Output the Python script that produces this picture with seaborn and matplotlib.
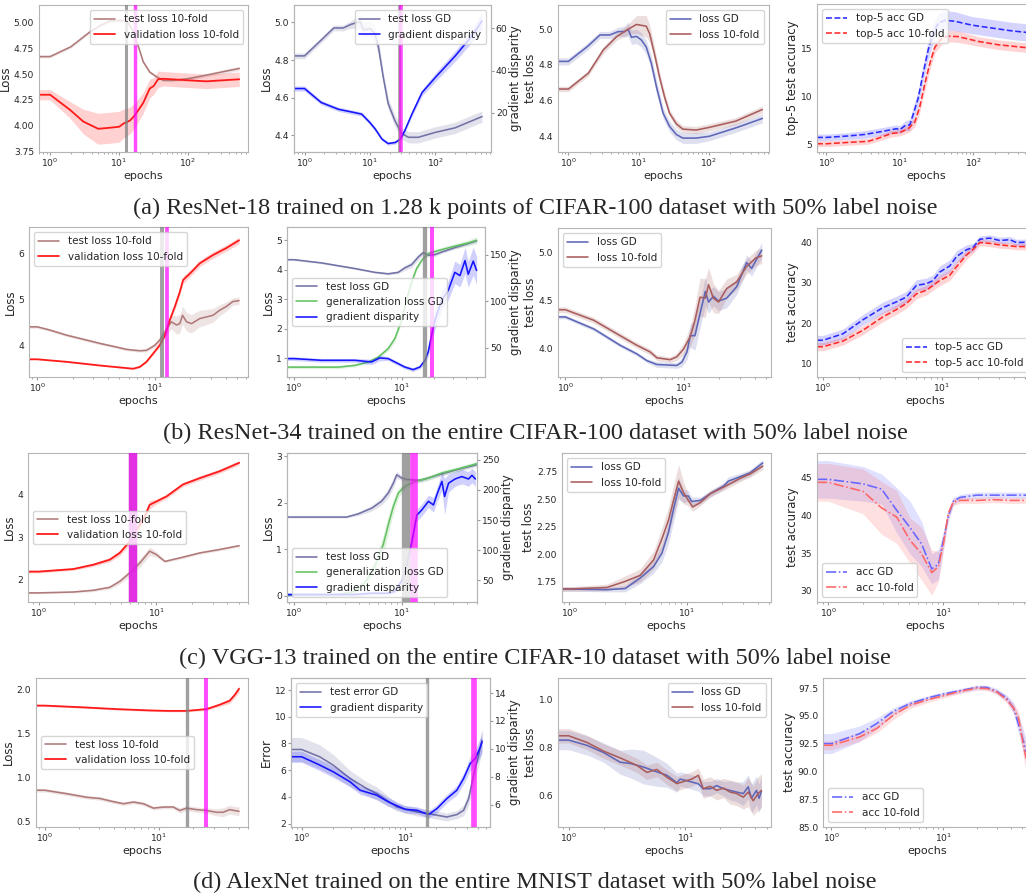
import matplotlib
matplotlib.use("Agg")
import matplotlib.pyplot as plt
from matplotlib.ticker import FormatStrFormatter
import seaborn as sns

# ---------------------------------------------------------------------------
# data (epochs, mean, spread)
# ---------------------------------------------------------------------------

# (a) ResNet-18, 1.28k CIFAR-100 points
a1_test_ep = [0.69, 1, 2, 3.8, 5.3, 7.4, 10, 13, 16, 20, 22.5, 28, 35, 44, 61, 100, 186, 365, 560]
a1_test = [4.67, 4.67, 4.765, 4.91, 4.97, 5.015, 5.02, 5.02, 4.92, 4.73, 4.62, 4.52, 4.475, 4.44, 4.44, 4.455, 4.49, 4.53, 4.555]
a1_test_sd = [0.012, 0.012, 0.012, 0.012, 0.012, 0.015, 0.015, 0.02, 0.02, 0.02, 0.015, 0.012, 0.012, 0.012, 0.012, 0.015, 0.015, 0.02, 0.02]
a1_val_ep = [0.69, 1, 1.95, 3.04, 5, 7.4, 10.1, 11.6, 14.5, 17, 22.5, 28, 32, 37, 44, 100, 186, 560]
a1_val = [4.30, 4.30, 4.153, 4.04, 3.97, 3.98, 3.99, 4.02, 4.05, 4.10, 4.22, 4.36, 4.385, 4.45, 4.455, 4.44, 4.43, 4.45]
a1_val_sd = [0.05, 0.05, 0.08, 0.12, 0.15, 0.15, 0.15, 0.14, 0.13, 0.12, 0.1, 0.09, 0.08, 0.08, 0.07, 0.07, 0.07, 0.07]
a1_stop = [12.6, 17.1]

a2_test_ep = [0.69, 1, 1.8, 2.8, 3.9, 5.2, 7.1, 8.0, 9.0, 10, 11.9, 13.5, 16, 19, 24, 30.6, 39, 55, 100, 200, 520]
a2_test = [4.822, 4.822, 4.906, 4.97, 4.97, 4.99, 5.003, 4.96, 4.963, 4.968, 4.94, 4.87, 4.71, 4.57, 4.48, 4.41, 4.39, 4.39, 4.416, 4.44, 4.50]
a2_test_sd = [0.015, 0.015, 0.015, 0.015, 0.015, 0.02, 0.04, 0.04, 0.04, 0.04, 0.04, 0.04, 0.03, 0.03, 0.03, 0.03, 0.03, 0.03, 0.03, 0.03, 0.03]
a2_gd_ep = [0.69, 1, 1.8, 3.3, 5.9, 7.5, 10, 12.1, 15.3, 19, 24.4, 29.1, 34.1, 43.9, 62.8, 100, 202, 364, 520]
a2_gd = [31.5, 31.5, 24.9, 21.7, 20.1, 19.4, 15.4, 12.3, 7.6, 5.5, 6.0, 7.6, 11.5, 19.4, 29.6, 36.7, 46.9, 56.4, 63.5]
a2_gd_sd = [1.2, 1.2, 1, 1, 1, 1, 1, 1, 0.8, 0.8, 0.8, 0.8, 1, 1.2, 1.5, 2, 2.5, 3, 4]
a2_stop = [28, 29.9]

a3_gd_ep = [0.71, 1, 1.82, 2.81, 3.89, 5.1, 6.3, 7.07, 7.86, 9.3, 10.9, 12.8, 15.1, 17.8, 22.2, 27.4, 34.2, 42.4, 65.5, 101, 240, 573]
a3_gd = [4.82, 4.82, 4.90, 4.968, 4.968, 4.987, 4.987, 5.0, 4.955, 4.96, 4.94, 4.90, 4.81, 4.68, 4.53, 4.456, 4.41, 4.39, 4.39, 4.40, 4.447, 4.50]
a3_gd_sd = [0.02, 0.02, 0.02, 0.02, 0.02, 0.025, 0.03, 0.04, 0.04, 0.04, 0.04, 0.04, 0.04, 0.04, 0.03, 0.03, 0.03, 0.03, 0.03, 0.025, 0.025, 0.025]
a3_kf_ep = [0.71, 1, 1.92, 3.13, 4.83, 7.07, 9.3, 12.8, 14.3, 16.8, 19.8, 23.3, 27.4, 34.2, 42.4, 65.5, 101, 240, 573]
a3_kf = [4.665, 4.665, 4.754, 4.884, 4.958, 5.0, 5.027, 5.017, 4.975, 4.86, 4.73, 4.62, 4.53, 4.47, 4.44, 4.435, 4.45, 4.485, 4.55]
a3_kf_sd = [0.015, 0.015, 0.015, 0.02, 0.02, 0.03, 0.05, 0.06, 0.05, 0.04, 0.03, 0.03, 0.02, 0.02, 0.02, 0.02, 0.02, 0.02, 0.02]

a4_gd_ep = [0.746, 1, 1.97, 3.33, 5.63, 7.7, 9.0, 10, 11.7, 13.7, 15.2, 17.8, 20.8, 24.3, 28.5, 33.4, 41.1, 56.3, 95, 177, 332, 600]
a4_gd = [5.69, 5.69, 5.84, 6.0, 6.3, 6.5, 6.6, 6.5, 6.9, 7.0, 8.1, 9.8, 12.4, 14.8, 16.6, 17.6, 17.9, 17.8, 17.4, 17.1, 16.8, 16.6]
a4_gd_sd = [0.35, 0.35, 0.35, 0.4, 0.4, 0.4, 0.4, 0.4, 0.5, 0.6, 0.7, 0.8, 0.9, 1.0, 1.0, 1.0, 1.0, 1.0, 0.9, 0.9, 0.9, 0.9]
a4_kf_ep = [0.746, 1, 1.97, 3.7, 5.06, 7.7, 10, 13, 16, 18.7, 21.9, 25.6, 30, 37, 45.7, 62, 117, 219, 600]
a4_kf = [5.03, 5.03, 5.17, 5.28, 5.6, 6.1, 6.2, 6.6, 7.3, 8.9, 11.3, 13.4, 15.1, 16.0, 16.25, 16.2, 15.7, 15.35, 15.0]
a4_kf_sd = [0.3, 0.3, 0.3, 0.3, 0.3, 0.35, 0.35, 0.4, 0.5, 0.6, 0.7, 0.7, 0.6, 0.6, 0.6, 0.6, 0.5, 0.5, 0.5]

# (b) ResNet-34, CIFAR-100
b1_test_ep = [0.85, 1, 1.28, 1.77, 2.46, 3.41, 4.73, 5.74, 7.45, 8.48, 10, 11.0, 12.5, 13.8, 15.3, 16.3, 17.2, 18.6, 20.5, 24.1, 31.2, 35.6, 40.4, 46.1, 52]
b1_test = [4.40, 4.40, 4.33, 4.22, 4.13, 4.04, 3.96, 3.91, 3.88, 3.89, 4.0, 4.11, 4.33, 4.51, 4.44, 4.47, 4.65, 4.51, 4.47, 4.58, 4.65, 4.76, 4.84, 4.95, 4.97]
b1_test_sd = [0.03] * 10 + [0.05, 0.08, 0.12, 0.15, 0.2, 0.2, 0.2, 0.2, 0.2, 0.18, 0.15, 0.12, 0.1, 0.08, 0.08]
b1_val_ep = [0.85, 1, 1.77, 3.41, 6.54, 7.45, 8.48, 9.67, 11.0, 12.2, 13.4, 14.8, 16.3, 17.4, 19.9, 24.1, 31.2, 40.4, 52]
b1_val = [3.695, 3.695, 3.64, 3.56, 3.49, 3.53, 3.64, 3.82, 4.0, 4.22, 4.55, 4.84, 5.16, 5.42, 5.56, 5.78, 5.96, 6.11, 6.28]
b1_val_sd = [0.01] * 4 + [0.015, 0.02, 0.02, 0.03, 0.03, 0.04, 0.05, 0.06, 0.08, 0.08, 0.07, 0.07, 0.07, 0.07, 0.07]
b1_stop = [11.6, 12.8]

b2_test_ep = [0.86, 1, 1.80, 3.67, 5.64, 7.51, 9.3, 10.7, 12.4, 14.3, 15.9, 17.7, 20.4, 23.6, 31.3, 41.7, 49.9]
b2_test = [4.34, 4.34, 4.23, 4.04, 3.91, 3.86, 3.91, 4.06, 4.17, 4.43, 4.58, 4.49, 4.51, 4.60, 4.75, 4.89, 4.98]
b2_test_sd = [0.03, 0.03, 0.03, 0.03, 0.03, 0.04, 0.05, 0.08, 0.1, 0.1, 0.08, 0.06, 0.06, 0.05, 0.05, 0.05, 0.05]
b2_gen_ep = [0.86, 1, 2.57, 3.67, 4.89, 6.06, 7.51, 8.66, 10, 11.1, 12.4, 13.8, 15.4, 17.7, 23.6, 31.3, 41.7, 49.9]
b2_gen = [0.69, 0.69, 0.69, 0.75, 0.86, 1.03, 1.32, 1.66, 2.28, 2.96, 3.58, 4.04, 4.32, 4.55, 4.68, 4.80, 4.91, 5.0]
b2_gen_sd = [0.05] * 5 + [0.06, 0.08, 0.1, 0.12, 0.12, 0.1, 0.08, 0.08, 0.08, 0.08, 0.08, 0.1, 0.12]
b2_gd_ep = [0.86, 1, 1.80, 3.67, 5.25, 6.28, 7.51, 8.66, 10.7, 12.8, 14.8, 16.5, 17.7, 19.0, 20.4, 23.6, 27.2, 31.3, 34.9, 38.9, 41.7, 46.4, 49.9]
b2_gd = [38.6, 38.6, 36.8, 36.8, 35, 39.3, 38.6, 35, 29.6, 26.8, 29.6, 36.8, 45.7, 63.6, 79.6, 101, 111.8, 131, 127.5, 143.6, 129, 143, 133]
b2_gd_sd = [2, 2, 2, 2, 3, 3, 2, 2, 2, 2, 2, 3, 5, 8, 10, 10, 10, 12, 12, 14, 14, 15, 15]
b2_stop = [16.5, 19.3]

b3_gd_ep = [0.867, 1, 1.74, 2.91, 4.03, 4.9, 5.95, 8.78, 9.7, 10.7, 11.4, 12.5, 13.8, 15.3, 16.3, 17.9, 19.8, 23.2, 28.2, 34.2, 37.7, 45.9]
b3_gd = [4.325, 4.325, 4.20, 4.03, 3.94, 3.87, 3.83, 3.82, 3.855, 3.96, 4.13, 4.13, 4.36, 4.59, 4.48, 4.54, 4.49, 4.52, 4.64, 4.89, 4.83, 5.02]
b3_gd_sd = [0.02, 0.02, 0.02, 0.02, 0.02, 0.02, 0.03, 0.03, 0.05, 0.08, 0.12, 0.15, 0.15, 0.15, 0.12, 0.1, 0.1, 0.1, 0.08, 0.08, 0.08, 0.08]
b3_kf_ep = [0.867, 1, 1.74, 2.91, 4.03, 5.23, 5.95, 7.7, 8.78, 10, 11.4, 12.5, 13.8, 15.3, 16.3, 17.9, 19.8, 23.2, 28.2, 34.2, 41.1, 45.9]
b3_kf = [4.40, 4.40, 4.29, 4.13, 4.03, 3.96, 3.90, 3.88, 3.91, 3.99, 4.12, 4.29, 4.53, 4.52, 4.66, 4.52, 4.48, 4.62, 4.69, 4.85, 4.94, 4.96]
b3_kf_sd = [0.03, 0.03, 0.03, 0.03, 0.03, 0.03, 0.03, 0.03, 0.04, 0.06, 0.1, 0.15, 0.2, 0.2, 0.18, 0.15, 0.12, 0.1, 0.08, 0.08, 0.08, 0.08]

b4_ep = [0.89, 1, 1.47, 2.17, 3.19, 4.13, 5.01, 6.09, 7.39, 8.41, 9.56, 11.6, 13.2, 16.0, 18.2, 20.7, 25.1, 30.5, 37.0, 42.1, 55]
b4_gd = [15.8, 15.8, 17.4, 20.9, 23.9, 25.3, 26.5, 29.4, 29.8, 30.6, 32.7, 34.2, 36.5, 38.2, 38.8, 40.8, 41.1, 40.5, 40.7, 40.0, 40.1]
b4_gd_sd = [1.2, 1.2, 1.2, 1.3, 1.4, 1.4, 1.4, 1.4, 1.4, 1.4, 1.5, 1.5, 1.5, 1.2, 1.0, 0.8, 0.8, 0.8, 0.8, 0.8, 0.8]
b4_kf = [14.2, 14.2, 15.6, 18.3, 21.6, 23.4, 24.9, 27.3, 28.2, 29.4, 30.6, 31.9, 34.0, 36.9, 38.3, 40.0, 39.8, 39.4, 39.2, 39.0, 39.0]
b4_kf_sd = [1.0, 1.0, 1.0, 1.1, 1.2, 1.2, 1.2, 1.2, 1.2, 1.2, 1.3, 1.3, 1.3, 1.1, 1.0, 0.8, 0.8, 0.8, 0.8, 0.8, 0.8]

# (c) VGG-13, CIFAR-10
c1_test_ep = [0.81, 1, 1.96, 2.89, 4.01, 4.88, 5.94, 7.21, 8.76, 10, 11.8, 16.8, 23.4, 34.4, 50.5]
c1_test = [1.69, 1.69, 1.71, 1.75, 1.82, 1.96, 2.16, 2.39, 2.67, 2.59, 2.43, 2.53, 2.63, 2.71, 2.80]
c1_test_sd = [0.02, 0.02, 0.02, 0.03, 0.04, 0.06, 0.08, 0.1, 0.1, 0.06, 0.03, 0.03, 0.03, 0.03, 0.03]
c1_val_ep = [0.81, 1, 1.96, 2.89, 4.01, 4.88, 5.94, 7.21, 7.96, 8.76, 10, 12.2, 16.8, 23.4, 34.4, 50.5]
c1_val = [2.19, 2.19, 2.25, 2.35, 2.47, 2.63, 2.90, 3.29, 3.49, 3.76, 3.84, 3.96, 4.24, 4.39, 4.55, 4.75]
c1_val_sd = [0.03, 0.03, 0.03, 0.04, 0.05, 0.06, 0.08, 0.1, 0.12, 0.1, 0.06, 0.05, 0.05, 0.05, 0.05, 0.05]
c1_stop = [6.3, 6.3]

c2_test_ep = [0.86, 1, 1.80, 3.07, 3.95, 5.25, 6.5, 7.51, 8.36, 8.97, 10, 11.1, 14.8, 22.0, 31.3, 49.9]
c2_test = [1.69, 1.69, 1.69, 1.69, 1.76, 1.88, 2.03, 2.21, 2.42, 2.60, 2.53, 2.50, 2.48, 2.60, 2.70, 2.82]
c2_test_sd = [0.02, 0.02, 0.02, 0.02, 0.04, 0.06, 0.08, 0.1, 0.1, 0.08, 0.05, 0.04, 0.04, 0.04, 0.04, 0.04]
c2_gen_ep = [0.86, 1, 2.57, 3.67, 4.55, 5.64, 6.74, 7.51, 8.36, 9.31, 10.7, 13.3, 17.7, 23.6, 31.3, 49.9]
c2_gen = [0.0, 0.02, 0.02, 0.09, 0.27, 0.63, 1.1, 1.53, 1.92, 2.21, 2.35, 2.46, 2.53, 2.64, 2.71, 2.84]
c2_gen_sd = [0.02, 0.02, 0.02, 0.05, 0.1, 0.15, 0.2, 0.2, 0.15, 0.1, 0.06, 0.05, 0.05, 0.05, 0.05, 0.05]
c2_gd_ep = [0.86, 1, 3.67, 5.25, 7.51, 8.66, 10, 11.1, 12.4, 13.8, 15.4, 17.7, 19.7, 21.2, 23.6, 25.0, 27.2, 31.3, 36.1, 41.7, 44.9, 48.3]
c2_gd = [26.7, 26.7, 26.7, 28.9, 28.9, 32, 50, 75, 114, 158, 167, 181, 175, 192, 214, 189, 211, 218, 222, 218, 224, 218]
c2_gd_sd = [3, 3, 3, 3, 3, 4, 6, 8, 10, 10, 10, 10, 12, 12, 15, 30, 15, 12, 12, 12, 12, 12]
c2_stop = [10.9, 13.0]

c3_gd_ep = [0.866, 1, 2.09, 2.99, 4.01, 5.21, 6.13, 6.98, 7.7, 8.5, 9.37, 10.3, 11.0, 13.0, 15.8, 20.5, 22.6, 28.4, 34.5, 44.2]
c3_gd = [1.686, 1.686, 1.68, 1.69, 1.786, 1.89, 2.01, 2.20, 2.41, 2.60, 2.53, 2.53, 2.48, 2.49, 2.55, 2.62, 2.665, 2.705, 2.74, 2.83]
c3_gd_sd = [0.02, 0.02, 0.02, 0.03, 0.05, 0.06, 0.08, 0.1, 0.12, 0.1, 0.06, 0.05, 0.04, 0.03, 0.03, 0.03, 0.04, 0.03, 0.03, 0.03]
c3_kf_ep = [0.866, 1, 2.09, 2.99, 4.01, 5.21, 6.13, 6.98, 7.7, 8.5, 9.37, 10.3, 11.2, 13.0, 15.8, 20.5, 28.4, 34.5, 44.2]
c3_kf = [1.686, 1.686, 1.70, 1.755, 1.81, 1.95, 2.14, 2.31, 2.49, 2.665, 2.56, 2.49, 2.43, 2.47, 2.55, 2.61, 2.69, 2.73, 2.80]
c3_kf_sd = [0.02, 0.02, 0.03, 0.05, 0.06, 0.08, 0.1, 0.12, 0.14, 0.15, 0.1, 0.05, 0.04, 0.03, 0.03, 0.03, 0.03, 0.03, 0.03]

c4_ep = [0.80, 1, 2.01, 2.91, 3.93, 5.13, 6.48, 7.93, 9.06, 10, 11.0, 12.2, 14.0, 19.5, 27.2, 38.0, 55]
c4_gd = [44.8, 44.8, 44.2, 43.5, 40.7, 38.4, 36.2, 32.9, 33.5, 36.7, 39.8, 41.9, 42.4, 42.7, 42.7, 42.7, 42.7]
c4_gd_sd = [2.5, 2.5, 2.3, 2.0, 3.0, 3.5, 3.0, 2.0, 2.0, 1.2, 0.8, 0.5, 0.4, 0.4, 0.4, 0.4, 0.4]
c4_kf = [44.4, 44.4, 43.2, 41.0, 39.8, 36.7, 34.9, 32.4, 33.2, 36.2, 40.2, 41.8, 42.0, 42.0, 42.1, 42.0, 42.0]
c4_kf_sd = [2.5, 2.5, 3.0, 3.5, 3.5, 3.0, 3.5, 3.0, 2.0, 1.0, 0.7, 0.5, 0.4, 0.4, 0.4, 0.4, 0.4]

# (d) AlexNet, MNIST
d1_test_ep = [0.84, 1, 1.57, 2.34, 3.06, 4.0, 4.89, 5.97, 7.31, 8.93, 10.9, 13.3, 15.2, 17.4, 21.3, 26.0, 31.8, 36.3, 41.5, 50.1]
d1_test = [0.86, 0.86, 0.82, 0.78, 0.766, 0.73, 0.707, 0.726, 0.707, 0.657, 0.669, 0.67, 0.63, 0.657, 0.64, 0.63, 0.61, 0.61, 0.64, 0.62]
d1_test_sd = [0.02] * 12 + [0.03, 0.03, 0.03, 0.03, 0.04, 0.05, 0.05, 0.05]
d1_val_ep = [0.84, 1, 2.19, 4.27, 8.34, 11.7, 17.4, 26.0, 34.0, 41.5, 45.9, 50.1]
d1_val = [1.82, 1.82, 1.80, 1.78, 1.765, 1.76, 1.76, 1.78, 1.83, 1.875, 1.94, 2.01]
d1_val_sd = [0.01, 0.01, 0.01, 0.01, 0.01, 0.01, 0.01, 0.015, 0.02, 0.03, 0.03, 0.04]
d1_stop = [17.4, 26.0]

d2_err_ep = [0.79, 1, 1.50, 2.02, 2.94, 4.25, 5.32, 6.64, 8.31, 10, 13.0, 16.8, 20.3, 25.3, 31.6, 36.7, 41.1, 45.8, 51.3, 55.3]
d2_err = [7.55, 7.55, 7.0, 6.38, 5.38, 4.63, 4.25, 3.75, 3.25, 3.08, 2.88, 2.75, 2.63, 2.5, 2.68, 3.0, 3.88, 5.63, 7.13, 8.25]
d2_err_sd = [0.9, 0.9, 0.9, 0.8, 0.6, 0.5, 0.5, 0.4, 0.3, 0.3, 0.3, 0.3, 0.3, 0.3, 0.3, 0.4, 0.5, 0.7, 0.8, 0.8]
d2_gd_ep = [0.79, 1, 1.50, 2.02, 2.94, 3.67, 5.32, 6.88, 10, 13.0, 16.8, 20.3, 25.3, 31.6, 36.7, 42.6, 47.7, 53.4, 55.3]
d2_gd = [9.43, 9.43, 8.83, 8.35, 7.63, 7.03, 6.67, 6.19, 5.66, 5.59, 5.28, 5.71, 6.43, 7.03, 7.87, 8.95, 9.31, 10.15, 10.5]
d2_gd_sd = [0.4, 0.4, 0.4, 0.4, 0.35, 0.3, 0.3, 0.3, 0.25, 0.25, 0.25, 0.3, 0.3, 0.35, 0.4, 0.5, 0.6, 0.7, 0.8]
d2_stop = [16.4, 45.8]

d3_gd_ep = [0.81, 1, 1.44, 2.0, 2.77, 3.38, 4.39, 5.72, 6.96, 8.5, 9.07, 10, 11.4, 13.0, 14.3, 16.4, 18.7, 21.3, 24.3, 27.7, 31.6, 34.8, 37.1, 41.0, 43.1, 45.2]
d3_gd = [0.832, 0.832, 0.81, 0.78, 0.74, 0.735, 0.72, 0.70, 0.686, 0.655, 0.67, 0.665, 0.658, 0.65, 0.63, 0.63, 0.643, 0.63, 0.623, 0.616, 0.61, 0.638, 0.59, 0.623, 0.59, 0.62]
d3_gd_sd = [0.04, 0.04, 0.04, 0.04, 0.05, 0.06, 0.07, 0.06, 0.05, 0.04, 0.03, 0.03, 0.03, 0.03, 0.03, 0.03, 0.03, 0.03, 0.04, 0.04, 0.05, 0.05, 0.06, 0.06, 0.06, 0.06]
d3_kf_ep = [0.81, 1, 1.44, 2.0, 2.77, 3.85, 4.69, 5.72, 6.96, 8.5, 9.69, 11.4, 13.0, 14.3, 16.4, 18.7, 21.3, 24.3, 27.7, 31.6, 34.8, 38.4, 42.4, 45.2]
d3_kf = [0.85, 0.85, 0.822, 0.786, 0.758, 0.727, 0.698, 0.71, 0.678, 0.651, 0.66, 0.67, 0.686, 0.63, 0.64, 0.623, 0.633, 0.616, 0.61, 0.595, 0.616, 0.58, 0.61, 0.623]
d3_kf_sd = [0.03] * 13 + [0.04, 0.04, 0.04, 0.04, 0.05, 0.05, 0.05, 0.06, 0.06, 0.07, 0.07]

d4_ep = [0.84, 1, 1.79, 2.53, 3.57, 5.03, 7.58, 10, 14.1, 19.9, 24.5, 30.0, 36.8, 42.4, 47.0, 52.2, 55.0]
d4_gd = [92.5, 92.5, 93.4, 94.3, 95.4, 96.1, 96.66, 96.96, 97.26, 97.56, 97.56, 97.2, 96.6, 95.7, 94.2, 92.65, 91.75]
d4_gd_sd = [0.9, 0.9, 0.7, 0.5, 0.3, 0.25, 0.2, 0.2, 0.2, 0.2, 0.2, 0.25, 0.3, 0.5, 0.8, 1.0, 1.2]
d4_kf = [92.35, 92.35, 93.1, 93.85, 95.05, 95.95, 96.5, 96.8, 97.2, 97.5, 97.45, 97.15, 96.45, 95.7, 94.8, 92.2, 91.15]
d4_kf_sd = [0.4, 0.4, 0.4, 0.4, 0.4, 0.3, 0.25, 0.2, 0.2, 0.2, 0.2, 0.2, 0.3, 0.4, 0.6, 1.0, 1.2]

captions = [
    "(a) ResNet-18 trained on 1.28 k points of CIFAR-100 dataset with 50% label noise",
    "(b) ResNet-34 trained on the entire CIFAR-100 dataset with 50% label noise",
    "(c) VGG-13 trained on the entire CIFAR-10 dataset with 50% label noise",
    "(d) AlexNet trained on the entire MNIST dataset with 50% label noise",
]

# colours
BROWN_LT = "#b07a7a"
RED = "#ff1a1a"
SLATE = "#7272a6"
BLUE = "#1414ff"
GREEN = "#62c262"
LGD = "#5e66b8"
L10 = "#a85c5c"

# ---------------------------------------------------------------------------
sns.set_style("white")
plt.rcParams["font.family"] = ["DejaVu Sans"]
plt.rcParams["axes.edgecolor"] = "#b5b5b5"
plt.rcParams["axes.linewidth"] = 0.8

W, H = 1026, 896
fig = plt.figure(figsize=(W / 100, H / 100), dpi=100)


def make_ax(box, xlim, ylim, yticks, yfmt, ax=None):
    # box is (left, top, right, bottom) in pixels
    if ax is None:
        l, t, r, b = box
        ax = fig.add_axes([l / W, 1 - b / H, (r - l) / W, (b - t) / H])
        ax.set_xscale("log")
        ax.set_xlim(*xlim)
    ax.set_ylim(*ylim)
    ax.set_yticks(yticks)
    ax.yaxis.set_major_formatter(FormatStrFormatter(yfmt))
    ax.tick_params(axis="both", which="major", labelsize=6.6, length=2.5,
                   color="#999999", pad=1)
    ax.tick_params(axis="x", which="both", bottom=True)
    ax.tick_params(axis="x", which="minor", length=1.5, color="#999999")
    return ax


def labels(ax, ylabel, ax2=None, ylabel2=None):
    # seaborn resets labels when drawing, so put them on at the end
    ax.set_xlabel("epochs", fontsize=8, labelpad=1)
    ax.set_ylabel(ylabel, fontsize=8.5, labelpad=1)
    if ax2 is not None:
        ax2.set_xlabel("")
        ax2.set_ylabel(ylabel2, fontsize=8.5, labelpad=1)


def band_line(ax, x, y, sd, color, label, ls="-", lw=1.15, alpha=0.2):
    lo = [v - s for v, s in zip(y, sd)]
    hi = [v + s for v, s in zip(y, sd)]
    ax.fill_between(x, lo, hi, color=color, alpha=alpha, linewidth=0)
    sns.lineplot(x=x, y=y, ax=ax, color=color, linestyle=ls, linewidth=lw,
                 legend=False, sort=False, estimator=None)
    line = ax.lines[-1]
    line.set_label(label)
    return line


def stops(ax, stop, widths):
    ax.axvline(stop[0], color="#808080", alpha=0.75, linewidth=widths[0], zorder=5)
    ax.axvline(stop[1], color="#ff00ff", alpha=0.7, linewidth=widths[1], zorder=5)


def add_legend(ax, handles, loc, **kw):
    leg = ax.legend(handles=handles, loc=loc, fontsize=7.5, frameon=True,
                    framealpha=0.8, edgecolor="#cccccc", borderpad=0.4,
                    handlelength=2.0, **kw)
    leg.set_zorder(20)
    return leg


# ---------------- row (a) ----------------
ax = make_ax((39, 5, 248, 152), (0.69, 750), (3.745, 5.17), [3.75, 4.0, 4.25, 4.5, 4.75, 5.0], "%.2f")
h1 = band_line(ax, a1_test_ep, a1_test, a1_test_sd, BROWN_LT, "test loss 10-fold")
h2 = band_line(ax, a1_val_ep, a1_val, a1_val_sd, RED, "validation loss 10-fold", lw=1.3)
stops(ax, a1_stop, (2.2, 2.5))
add_legend(ax, [h1, h2], "upper right")
labels(ax, "Loss")

ax = make_ax((294, 5, 491, 152), (0.69, 713), (4.312, 5.092), [4.4, 4.6, 4.8, 5.0], "%.1f")
h1 = band_line(ax, a2_test_ep, a2_test, a2_test_sd, SLATE, "test loss GD")
ax2 = ax.twinx()
h2 = band_line(ax2, a2_gd_ep, a2_gd, a2_gd_sd, BLUE, "gradient disparity")
make_ax(None, None, (1.5, 71), [20, 40, 60], "%d", ax=ax2)
stops(ax2, a2_stop, (1.9, 2.6))
add_legend(ax2, [h1, h2], "upper right")
labels(ax, "Loss", ax2, "gradient disparity")

ax = make_ax((558, 5, 769, 152), (0.71, 713), (4.312, 5.136), [4.4, 4.6, 4.8, 5.0], "%.1f")
h1 = band_line(ax, a3_gd_ep, a3_gd, a3_gd_sd, LGD, "loss GD")
h2 = band_line(ax, a3_kf_ep, a3_kf, a3_kf_sd, L10, "loss 10-fold")
add_legend(ax, [h1, h2], "upper right")
labels(ax, "test loss")

ax = make_ax((817, 4, 1036, 152), (0.746, 713), (4.17, 19.6), [5, 10, 15], "%d")
h1 = band_line(ax, a4_gd_ep, a4_gd, a4_gd_sd, "#2b2bff", "top-5 acc GD", ls="--")
h2 = band_line(ax, a4_kf_ep, a4_kf, a4_kf_sd, "#ff2b2b", "top-5 acc 10-fold", ls="--")
add_legend(ax, [h1, h2], "upper left")
labels(ax, "top-5 test accuracy")

# ---------------- row (b) ----------------
ax = make_ax((29, 227, 248, 377), (0.85, 62), (3.31, 6.57), [4, 5, 6], "%d")
h1 = band_line(ax, b1_test_ep, b1_test, b1_test_sd, BROWN_LT, "test loss 10-fold")
h2 = band_line(ax, b1_val_ep, b1_val, b1_val_sd, RED, "validation loss 10-fold", lw=1.3)
stops(ax, b1_stop, (2.9, 2.7))
add_legend(ax, [h1, h2], "upper left")
labels(ax, "Loss")

ax = make_ax((287, 227, 485, 377), (0.86, 59.7), (0.355, 5.45), [1, 2, 3, 4, 5], "%d")
h1 = band_line(ax, b2_test_ep, b2_test, b2_test_sd, SLATE, "test loss GD")
h2 = band_line(ax, b2_gen_ep, b2_gen, b2_gen_sd, GREEN, "generalization loss GD")
ax2 = ax.twinx()
h3 = band_line(ax2, b2_gd_ep, b2_gd, b2_gd_sd, BLUE, "gradient disparity")
make_ax(None, None, (18.9, 179.6), [50, 100, 150], "%d", ax=ax2)
stops(ax2, b2_stop, (3.1, 2.9))
add_legend(ax2, [h1, h2, h3], "center left", bbox_to_anchor=(0.0, 0.5))
labels(ax, "Loss", ax2, "gradient disparity")

ax = make_ax((558, 228, 771, 377), (0.867, 55), (3.70, 5.25), [4.0, 4.5, 5.0], "%.1f")
h1 = band_line(ax, b3_gd_ep, b3_gd, b3_gd_sd, LGD, "loss GD")
h2 = band_line(ax, b3_kf_ep, b3_kf, b3_kf_sd, L10, "loss 10-fold")
add_legend(ax, [h1, h2], "upper left")
labels(ax, "test loss")

ax = make_ax((817, 228, 1033, 377), (0.89, 58), (6.7, 43.6), [10, 20, 30, 40], "%d")
h1 = band_line(ax, b4_ep, b4_gd, b4_gd_sd, "#2b2bff", "top-5 acc GD", ls="--")
h2 = band_line(ax, b4_ep, b4_kf, b4_kf_sd, "#ff2b2b", "top-5 acc 10-fold", ls="--")
add_legend(ax, [h1, h2], "lower right")
labels(ax, "test accuracy")

# ---------------- row (c) ----------------
ax = make_ax((28, 453, 248, 602), (0.81, 60), (1.475, 4.98), [2, 3, 4], "%d")
h1 = band_line(ax, c1_test_ep, c1_test, c1_test_sd, BROWN_LT, "test loss 10-fold")
h2 = band_line(ax, c1_val_ep, c1_val, c1_val_sd, RED, "validation loss 10-fold", lw=1.3)
stops(ax, c1_stop, (6.0, 6.0))
add_legend(ax, [h1, h2], "center left", bbox_to_anchor=(0.0, 0.5))
labels(ax, "Loss")

ax = make_ax((287, 453, 477, 602), (0.86, 50), (-0.14, 3.07), [0, 1, 2, 3], "%d")
h1 = band_line(ax, c2_test_ep, c2_test, c2_test_sd, SLATE, "test loss GD")
h2 = band_line(ax, c2_gen_ep, c2_gen, c2_gen_sd, GREEN, "generalization loss GD")
ax2 = ax.twinx()
h3 = band_line(ax2, c2_gd_ep, c2_gd, c2_gd_sd, BLUE, "gradient disparity")
make_ax(None, None, (14.4, 261), [50, 100, 150, 200, 250], "%d", ax=ax2)
stops(ax2, c2_stop, (6.0, 5.5))
add_legend(ax2, [h1, h2, h3], "lower left")
labels(ax, "Loss", ax2, "gradient disparity")

ax = make_ax((562, 453, 771, 602), (0.866, 52), (1.568, 2.92), [1.75, 2.0, 2.25, 2.5, 2.75], "%.2f")
h1 = band_line(ax, c3_gd_ep, c3_gd, c3_gd_sd, LGD, "loss GD")
h2 = band_line(ax, c3_kf_ep, c3_kf, c3_kf_sd, L10, "loss 10-fold")
add_legend(ax, [h1, h2], "upper left")
labels(ax, "test loss")

ax = make_ax((817, 453, 1033, 602), (0.80, 60), (28.5, 48.3), [30, 35, 40, 45], "%d")
h1 = band_line(ax, c4_ep, c4_gd, c4_gd_sd, "#6666ff", "acc GD", ls="-.")
h2 = band_line(ax, c4_ep, c4_kf, c4_kf_sd, "#ff6666", "acc 10-fold", ls="-.")
add_legend(ax, [h1, h2], "lower left")
labels(ax, "test accuracy")

# ---------------- row (d) ----------------
ax = make_ax((36, 678, 248, 827), (0.84, 60), (0.443, 2.133), [0.5, 1.0, 1.5, 2.0], "%.1f")
h1 = band_line(ax, d1_test_ep, d1_test, d1_test_sd, BROWN_LT, "test loss 10-fold")
h2 = band_line(ax, d1_val_ep, d1_val, d1_val_sd, RED, "validation loss 10-fold", lw=1.3)
stops(ax, d1_stop, (2.4, 2.9))
add_legend(ax, [h1, h2], "center left", bbox_to_anchor=(0.0, 0.5))
labels(ax, "Loss")

ax = make_ax((291, 678, 490, 827), (0.79, 66), (1.75, 12.9), [2, 4, 6, 8, 10, 12], "%d")
h1 = band_line(ax, d2_err_ep, d2_err, d2_err_sd, SLATE, "test error GD")
ax2 = ax.twinx()
h2 = band_line(ax2, d2_gd_ep, d2_gd, d2_gd_sd, BLUE, "gradient disparity")
make_ax(None, None, (4.39, 15.08), [6, 8, 10, 12, 14], "%d", ax=ax2)
stops(ax2, d2_stop, (2.4, 4.1))
add_legend(ax2, [h1, h2], "upper left")
labels(ax, "Error", ax2, "gradient disparity")

ax = make_ax((558, 678, 771, 827), (0.81, 54.6), (0.471, 1.09), [0.6, 0.8, 1.0], "%.1f")
h1 = band_line(ax, d3_gd_ep, d3_gd, d3_gd_sd, LGD, "loss GD")
h2 = band_line(ax, d3_kf_ep, d3_kf, d3_kf_sd, L10, "loss 10-fold")
add_legend(ax, [h1, h2], "upper right")
labels(ax, "test loss")

ax = make_ax((823, 678, 1032, 827), (0.84, 62), (85.0, 98.4), [85.0, 87.5, 90.0, 92.5, 95.0, 97.5], "%.1f")
h1 = band_line(ax, d4_ep, d4_gd, d4_gd_sd, "#6666ff", "acc GD", ls="-.")
h2 = band_line(ax, d4_ep, d4_kf, d4_kf_sd, "#ff6666", "acc 10-fold", ls="-.")
add_legend(ax, [h1, h2], "lower left")
labels(ax, "test accuracy")

# ---------------- captions ----------------
for cap, ypix in zip(captions, [208, 433, 658, 882]):
    fig.text(535 / W, 1 - ypix / H, cap, ha="center", va="center",
             fontsize=17.5, family=["Liberation Serif", "DejaVu Serif"])

fig.savefig("out.png", dpi=100)
